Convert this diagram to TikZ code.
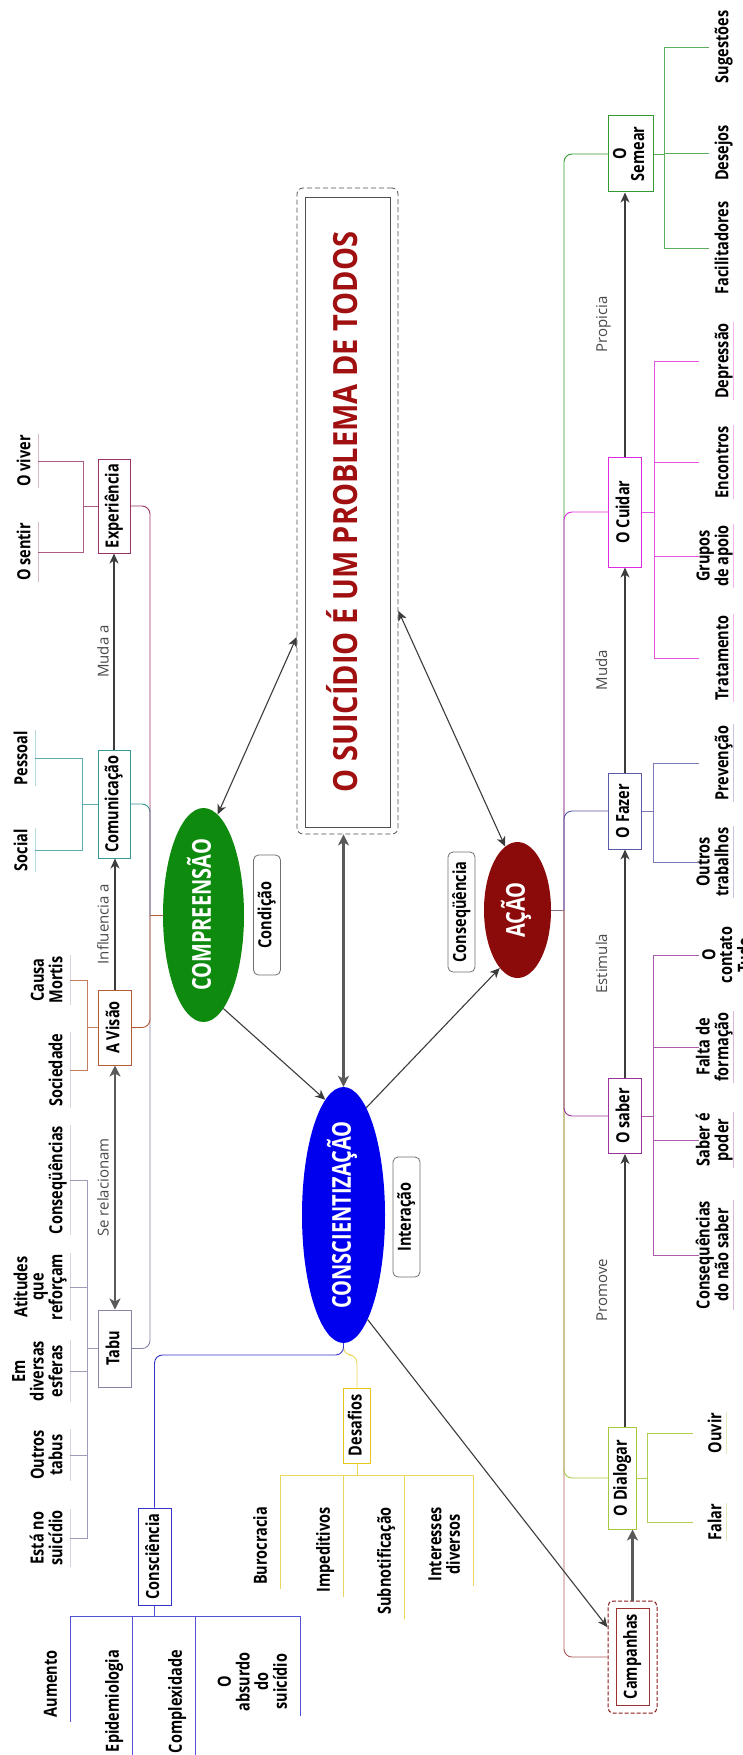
\documentclass[tikz,border=0pt]{standalone}
\usepackage{fontspec}
\usepackage{graphicx}
\setmainfont{Open Sans}
\usetikzlibrary{shapes.geometric,arrows.meta}

\definecolor{expcol}{HTML}{993366}
\definecolor{comcol}{HTML}{339999}
\definecolor{viscol}{HTML}{B35C33}
\definecolor{tabcol}{HTML}{8585A8}
\definecolor{cnscol}{HTML}{3333CC}
\definecolor{descol}{HTML}{E6C619}
\definecolor{desline}{HTML}{EAD65C}
\definecolor{semcol}{HTML}{339933}
\definecolor{cuicol}{HTML}{E02AE0}
\definecolor{fazcol}{HTML}{5A5AAA}
\definecolor{sabcol}{HTML}{993399}
\definecolor{diacol}{HTML}{A6C83C}
\definecolor{camcol}{HTML}{993333}
\definecolor{camdash}{HTML}{8B1A1A}
\definecolor{camline}{HTML}{B05858}
\definecolor{acaline}{HTML}{8C6E8C}
\definecolor{cmpfill}{HTML}{0E8A0E}
\definecolor{cscfill}{HTML}{0000EE}
\definecolor{acafill}{HTML}{8B0A0A}
\definecolor{titlered}{HTML}{A01010}
\definecolor{framegray}{HTML}{505050}
\definecolor{arrowgray}{HTML}{3C3C3C}
\definecolor{linkgray}{HTML}{4A4A4A}
\definecolor{taggray}{HTML}{707070}

\newcommand\lblfont{\fontsize{14.5}{13}\selectfont\bfseries}
\newcommand\lnkfont{\fontsize{15}{18}\selectfont}
\newcommand\elpfont{\fontsize{20}{24}\selectfont\bfseries}
\newcommand\ttlfont{\fontsize{29}{34}\selectfont\bfseries}
% text set bottom-to-top (several centred lines allowed), glyphs drawn a little tall
\newcommand\vtextx[2]{\scalebox{#1}[1]{\rotatebox{90}{\begin{tabular}{@{}c@{}}#2\end{tabular}}}}
\newcommand\vtext[1]{\vtextx{1.25}{#1}}
% leaf text pushed to the far side of a fixed-depth box
\newcommand\rbox[2]{\makebox[#1][r]{\vtext{#2}}}

\begin{document}
\begin{tikzpicture}[x=1pt,y=-1pt,
  cbox/.style={draw, line width=1pt, rectangle, inner sep=0pt, fill=white, font=\lblfont},
  lfl/.style={anchor=east, inner xsep=2.5pt, inner ysep=1pt, font=\lblfont},
  lfr/.style={anchor=west, inner xsep=0pt, inner ysep=1pt, font=\lblfont},
  lfb/.style={anchor=north east, inner xsep=8pt, inner ysep=4pt, font=\lblfont},
  lnk/.style={font=\lnkfont, text=linkgray, inner sep=0pt},
  rtag/.style={draw=taggray, line width=0.8pt, rounded corners=5pt, minimum width=27pt, minimum height=120pt, inner sep=0pt, font=\lblfont},
  elps/.style={ellipse, inner sep=0pt},
  etxt/.style={font=\elpfont, text=white, inner sep=0pt},
  brch/.style={line width=0.9pt, rounded corners=8pt},
  twig/.style={line width=0.8pt},
  faint/.style={line width=0.7pt, opacity=0.35},
  arw/.style={draw=arrowgray, line width=1.1pt, -{Stealth[length=10pt,width=9pt,inset=3pt]}},
  darw/.style={arw, {Stealth[length=10pt,width=9pt,inset=3pt]}-{Stealth[length=10pt,width=9pt,inset=3pt]}},
  tarw/.style={draw=arrowgray!85, line width=2.4pt, -{Stealth[length=11pt,width=11pt,inset=3pt]}},
  tdarw/.style={tarw, {Stealth[length=11pt,width=11pt,inset=3pt]}-{Stealth[length=11pt,width=11pt,inset=3pt]}},
]
\fill[white] (0,0) rectangle (743,1755);
\useasboundingbox (0,0) rectangle (743,1755);

% ---------- central statement ----------
\node[draw=framegray, dash pattern=on 5pt off 3pt, line width=0.8pt, rounded corners=6pt,
      minimum width=101pt, minimum height=646pt] (ttlo) at (347.5,511) {};
\node[draw=framegray, line width=0.9pt, fill=white, inner sep=0pt,
      minimum width=85pt, minimum height=630pt, font=\ttlfont, text=titlered]
      (ttl) at (347.5,512) {\vtextx{1.15}{O SUICÍDIO É UM PROBLEMA DE TODOS}};

% ---------- the three ellipses ----------
\node[elps, fill=cmpfill, minimum width=81pt, minimum height=214pt,
      label={[etxt]center:\vtextx{1.3}{COMPREENSÃO}}] (cmp) at (203.5,915) {};
\node[elps, fill=cscfill, minimum width=83pt, minimum height=256pt,
      label={[etxt]center:\vtextx{1.3}{CONSCIENTIZAÇÃO}}] (csc) at (343.5,1215) {};
\node[elps, fill=acafill, minimum width=67pt, minimum height=136pt,
      label={[etxt]center:\vtextx{1.3}{AÇÃO}}] (aca) at (517.5,910) {};

% ---------- relation tags ----------
\node[rtag] (cond) at (267,915) {\vtext{Condição}};
\node[rtag] (cseq) at (461.5,912) {\vtext{Conseqüência}};
\node[rtag] (intr) at (406.5,1217) {\vtext{Interação}};

% ---------- left chain ----------
\node[cbox, draw=expcol, minimum width=32pt, minimum height=94pt] (exp) at (114,506) {\vtext{Experiência}};
\node[cbox, draw=comcol, minimum width=32pt, minimum height=108pt] (com) at (114,804) {\vtext{Comunicação}};
\node[cbox, draw=viscol, minimum width=33pt, minimum height=75pt] (vis) at (115,1027.5) {\vtext{A Visão}};
\node[cbox, draw=tabcol, minimum width=33pt, minimum height=77pt] (tab) at (115,1348.5) {\vtext{Tabu}};

% ---------- lower branch boxes ----------
\node[cbox, draw=cnscol, minimum width=33pt, minimum height=97pt] (cns) at (154.5,1556.5) {\vtext{Consciência}};
\node[cbox, draw=descol, minimum width=27pt, minimum height=75pt] (des) at (357,1425.5) {\vtext{Desafios}};

% ---------- right chain ----------
\node[cbox, draw=semcol, anchor=west, minimum width=45pt, minimum height=76pt] (sem) at (608,154) {\vtext{O\\Semear}};
\node[cbox, draw=cuicol, anchor=west, minimum width=33pt, minimum height=110pt] (cui) at (608,512) {\vtext{O Cuidar}};
\node[cbox, draw=fazcol, anchor=west, minimum width=33pt, minimum height=76pt] (faz) at (608,811) {\vtext{O Fazer}};
\node[cbox, draw=sabcol, anchor=west, minimum width=33pt, minimum height=75pt] (sab) at (608,1116) {\vtext{O saber}};
\node[cbox, draw=diacol, anchor=west, minimum width=28pt, minimum height=102pt] (dia) at (608,1478) {\vtext{O Dialogar}};
\node[draw=camdash, dash pattern=on 4pt off 2pt, line width=1pt, rounded corners=5pt,
      minimum width=49pt, minimum height=112pt] (camo) at (632.5,1657) {};
\node[cbox, draw=camcol, minimum width=33pt, minimum height=97pt] (cam) at (632.5,1656.5) {\vtext{Campanhas}};

% ---------- leaves on the left ----------
\node[lfl] (viv) at (38,461) {\vtext{O viver}};
\node[lfl] (sen) at (38,552) {\vtext{O sentir}};
\node[lfl] (pes) at (35,758) {\vtext{Pessoal}};
\node[lfl] (soc) at (35,850) {\vtext{Social}};
\node[lfl] (cau) at (70,980) {\vtext{Causa\\Mortis}};
\node[lfl] (sdd) at (70,1070) {\vtext{Sociedade}};
\node[lfl] (csq) at (70,1180) {\vtext{Conseqüências}};
\node[lfl] (ati) at (70,1287) {\vtext{Atitudes\\que\\reforçam}};
\node[lfl] (esf) at (70,1371) {\vtext{Em\\diversas\\esferas}};
\node[lfl] (otb) at (70,1455) {\vtext{Outros\\tabus}};
\node[lfl] (est) at (70,1538) {\vtext{Está no\\suicídio}};

% ---------- leaves on the right ----------
\node[lfr] (sug) at (709,47) {\rbox{24pt}{Sugestões}};
\node[lfr] (dsj) at (709,153) {\rbox{24pt}{Desejos}};
\node[lfr] (fac) at (709,248) {\rbox{24pt}{Facilitadores}};
\node[lfr] (dep) at (699,361) {\rbox{34pt}{Depressão}};
\node[lfr] (enc) at (699,462) {\rbox{34pt}{Encontros}};
\node[lfr] (gru) at (699,556) {\rbox{34pt}{Grupos\\de apoio}};
\node[lfr] (tra) at (699,658) {\rbox{34pt}{Tratamento}};
\node[lfr] (pre) at (699,763) {\rbox{34pt}{Prevenção}};
\node[lfr] (otr) at (699,862) {\rbox{34pt}{Outros\\trabalhos}};
\node[lfr, inner xsep=3pt] (oct) at (699,955) {\vtext{O\\contato\\Tudo}};
\node[lfr] (flt) at (699,1047) {\rbox{34pt}{Falta de\\formação}};
\node[lfr] (spd) at (699,1140) {\rbox{34pt}{Saber é\\poder}};
\node[lfr] (cnq) at (699,1255) {\rbox{34pt}{Consequências\\do não saber}};
\node[lfr] (ouv) at (693,1433) {\rbox{33pt}{Ouvir}};
\node[lfr] (fla) at (693,1522) {\rbox{33pt}{Falar}};

% ---------- leaves below ----------
\node[lfb] (aum) at (70,1646) {\vtext{Aumento}};
\node[lfb] (epi) at (132,1646) {\vtext{Epidemiologia}};
\node[lfb] (cpx) at (195,1646) {\vtext{Complexidade}};
\node[lfb] (abs) at (300,1648) {\vtext{O\\absurdo\\do\\suicídio}};
\node[lfb] (bur) at (280,1503) {\vtext{Burocracia}};
\node[lfb] (imp) at (343,1503) {\vtext{Impeditivos}};
\node[lfb] (sub) at (404,1503) {\vtext{Subnotificação}};
\node[lfb] (itd) at (473,1503) {\vtext{Interesses\\diversos}};

% ---------- junction points ----------
\coordinate (lt) at (150,915);
\coordinate (rt) at (564,910);
\coordinate (cb) at (343.5,1355);
\coordinate (expk) at (83,506);
\coordinate (comk) at (82,804);
\coordinate (visk) at (87,1027.5);
\coordinate (tabk) at (87,1348.5);
\coordinate (semk) at (664,154);
\coordinate (cuik) at (654,512);
\coordinate (fazk) at (653,811);
\coordinate (sabk) at (653,1116);
\coordinate (diak) at (647,1478);
\coordinate (cnsk) at (154.5,1616);
\coordinate (desk) at (357,1475);

% ---------- trunk of COMPREENSÃO ----------
\draw[brch, viscol] (cmp.west) -- (lt);
\draw[brch, tabcol] (lt) |- (tab.east);
\draw[brch, viscol] (lt) |- (vis.east);
\draw[brch, comcol] (lt) |- (com.east);
\draw[brch, expcol] (lt) |- (exp.east);

% ---------- trunk of AÇÃO ----------
\draw[brch, acaline] (aca.east) -- (rt);
\draw[brch, camline] (rt) |- (camo.west);
\draw[brch, diacol] (rt) |- (dia.west);
\draw[brch, sabcol] (rt) |- (sab.west);
\draw[brch, semcol] (rt) |- (sem.west);
\draw[brch, cuicol] (rt) |- (cui.west);
\draw[brch, fazcol] (rt) |- (faz.west);

% ---------- branches of CONSCIENTIZAÇÃO ----------
\draw[brch, desline] (csc.south) -- (cb) -| (des.north);
\draw[brch, cnscol] (csc.south) -- (cb) -| (cns.north);

% ---------- leaf combs, left ----------
\draw[twig, expcol!80] (exp.west) -- (expk) (expk) |- (viv.east) (expk) |- (sen.east);
\draw[twig, comcol!80] (com.west) -- (comk) (comk) |- (pes.east) (comk) |- (soc.east);
\draw[twig, viscol!80] (vis.west) -- (visk) (visk) |- (cau.east) (visk) |- (sdd.east);
\draw[twig, tabcol!80] (tab.west) -- (tabk) (tabk) |- (csq.east) (tabk) |- (ati.east)
      (tabk) |- (esf.east) (tabk) |- (otb.east) (tabk) |- (est.east);

% ---------- leaf combs, right ----------
\draw[twig, semcol!80] (sem.east) -- (semk) (semk) |- (sug.west) (semk) |- (dsj.west) (semk) |- (fac.west);
\draw[twig, cuicol!80] (cui.east) -- (cuik) (cuik) |- (dep.west) (cuik) |- (enc.west)
      (cuik) |- (gru.west) (cuik) |- (tra.west);
\draw[twig, fazcol!80] (faz.east) -- (fazk) (fazk) |- (pre.west) (fazk) |- (otr.west);
\draw[twig, sabcol!80] (sab.east) -- (sabk) (sabk) |- (oct.west) (sabk) |- (flt.west)
      (sabk) |- (spd.west) (sabk) |- (cnq.west);
\draw[twig, diacol!90] (dia.east) -- (diak) (diak) |- (ouv.west) (diak) |- (fla.west);

% ---------- leaf combs, below ----------
\draw[twig, cnscol!85] (cns.south) -- (cnsk) (cnsk) -| (aum.south east) (cnsk) -| (epi.south east)
      (cnsk) -| (cpx.south east) (cnsk) -| (abs.south east);
\draw[twig, desline] (des.south) -- (desk) (desk) -| (bur.south east) (desk) -| (imp.south east)
      (desk) -| (sub.south east) (desk) -| (itd.south east);

% ---------- faint base lines of the leaves ----------
\foreach \n in {viv,sen} \draw[faint, expcol] (\n.north east) -- (\n.south east);
\foreach \n in {pes,soc} \draw[faint, comcol] (\n.north east) -- (\n.south east);
\foreach \n in {cau,sdd,csq,ati,esf,otb,est} \draw[faint, tabcol] (\n.north east) -- (\n.south east);
\foreach \n in {dep,enc,gru,tra} \draw[faint, cuicol] (\n.north east) -- (\n.south east);
\foreach \n in {pre,otr} \draw[faint, fazcol] (\n.north east) -- (\n.south east);
\foreach \n in {flt,spd,cnq} \draw[faint, sabcol] (\n.north east) -- (\n.south east);
\foreach \n in {ouv,fla} \draw[faint, diacol] (\n.north east) -- (\n.south east);

% ---------- main relations ----------
\draw[darw] (cmp.82) -- (ttlo.-112.7);
\draw[darw] (aca.101.4) -- (ttlo.-63.4);
\draw[tdarw] (csc.north) -- (csc.north |- ttlo.south);
\draw[arw] (cmp.-78.7) -- (csc.99.9);
\draw[arw] (csc.78.3) -- (aca.-107.1);
\draw[arw] (csc.-77.7) -- (camo.130.2);

% ---------- left chain relations ----------
\draw[arw] (com.north) -- node[lnk, xshift=-9pt]{\vtextx{1}{Muda a}} (exp.south);
\draw[arw] (vis.north) -- node[lnk, xshift=-10pt]{\vtextx{1}{Influencia a}} (vis.north |- com.south);
\draw[tdarw] (tab.north) -- node[lnk, xshift=-10pt]{\vtextx{1}{Se relacionam}} (vis.south);

% ---------- right chain relations ----------
\draw[arw] (cui.north) -- node[lnk, xshift=-21.5pt]{\vtextx{1}{Propicia}} (cui.north |- sem.south);
\draw[arw] (faz.north) -- node[lnk, xshift=-21.5pt]{\vtextx{1}{Muda}} (cui.south);
\draw[arw] (sab.north) -- node[lnk, xshift=-21.5pt]{\vtextx{1}{Estimula}} (faz.south);
\draw[arw] (sab.south |- dia.north) -- node[lnk, xshift=-21.5pt]{\vtextx{1}{Promove}} (sab.south);
\draw[tarw] (camo.north) -- (camo.north |- dia.south);
\end{tikzpicture}
\end{document}
